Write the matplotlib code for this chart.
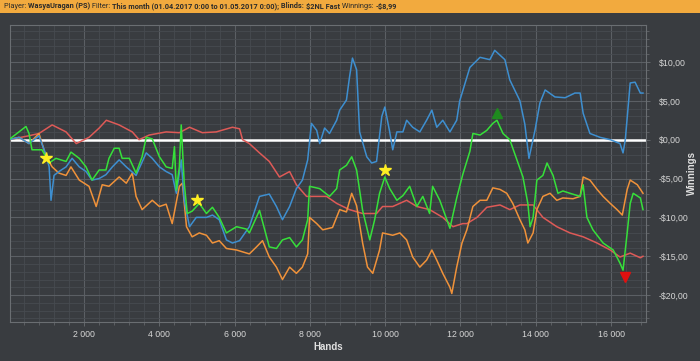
import matplotlib.pyplot as plt
from matplotlib.ticker import MultipleLocator, FuncFormatter
from matplotlib.patches import Rectangle

plt.rcParams['font.family'] = ['Liberation Sans', 'DejaVu Sans']

# cumulative winnings per series (hands, dollars)
hands_red = [0, 530, 800, 1150, 1520, 1790, 2130, 2400, 2590, 2930, 3280, 3460, 3730, 4180, 4530,
             4800, 5140, 5510, 5940, 6130, 6210, 6390, 6660, 6920, 7190, 7460, 7640, 7910, 8180,
             8440, 8710, 9050, 9400, 9770, 9930, 10200, 10570, 10840, 11180, 11530, 11800, 12060,
             12170, 12440, 12700, 13050, 13310, 13580, 13930, 14190, 14560, 14910, 15260, 15630,
             15980, 16240, 16510, 16780, 16850]
win_red = [0, 0.5, 0.8, 1.9, 1.0, -0.5, 0.3, 1.5, 2.5, 1.9, 1.0, 0.0, 0.6, 1.0, 0.9,
           1.6, 0.9, 1.0, 1.6, 1.4, 0.0, -0.5, -1.7, -2.8, -4.8, -4.1, -5.8, -7.3, -7.3,
           -7.3, -8.2, -9.0, -9.5, -9.5, -8.6, -8.6, -7.8, -8.6, -9.0, -10.0, -11.2, -10.8,
           -10.8, -10.0, -8.7, -8.4, -9.0, -8.4, -8.4, -10.0, -11.2, -12.0, -12.5, -13.3,
           -14.2, -15.1, -14.6, -15.2, -15.0]

hands_orange = [0, 270, 535, 800, 990, 1150, 1330, 1520, 1650, 1870, 2130, 2320, 2480, 2660, 2930,
                3120, 3280, 3380, 3540, 3810, 4000, 4180, 4340, 4530, 4610, 4720, 4870, 5060, 5250,
                5410, 5590, 5780, 6050, 6390, 6580, 6740, 6920, 7110, 7270, 7460, 7640, 7800, 7940,
                7990, 8180, 8340, 8600, 8790, 8970, 9110, 9240, 9400, 9530, 9670, 9850, 9930, 10200,
                10390, 10570, 10730, 10920, 11100, 11240, 11370, 11530, 11720, 11770, 11900, 12040,
                12170, 12330, 12520, 12700, 12860, 13050, 13230, 13390, 13580, 13710, 13790, 13930,
                14030, 14190, 14380, 14560, 14720, 14990, 15180, 15260, 15440, 15630, 15790, 15980,
                16160, 16300, 16430, 16510, 16700, 16850]
win_orange = [0, 0.3, -0.5, 0.8, -2.2, -3.5, -4.3, -4.6, -3.5, -5.2, -6.0, -8.6, -5.8, -6.0, -4.8,
              -5.6, -4.3, -7.3, -9.0, -7.8, -8.6, -8.3, -10.8, -6.0, -5.6, -11.2, -12.5, -12.0, -12.3,
              -13.3, -13.0, -14.0, -14.2, -14.7, -13.8, -13.0, -15.1, -16.4, -18.0, -16.4, -17.2, -16.4, -14.7,
              -10.0, -10.8, -11.6, -11.3, -9.0, -9.3, -6.9, -8.5, -13.3, -16.4, -17.2, -14.2, -12.0, -12.3,
              -12.0, -12.9, -15.1, -16.4, -15.5, -14.2, -15.5, -17.2, -19.0, -19.8, -16.4, -13.3,
              -11.6, -8.6, -7.8, -7.8, -6.2, -6.4, -6.9, -8.2, -10.3, -11.6, -13.3, -12.0,
              -9.0, -7.3, -6.9, -7.8, -7.5, -7.6, -7.3, -4.8, -5.2, -6.4, -7.3, -8.2,
              -9.0, -9.7, -6.4, -5.2, -5.8, -6.9]

hands_blue = [0, 270, 535, 800, 990, 1070, 1120, 1200, 1330, 1520, 1680, 1870, 2050, 2210, 2400,
              2580, 2750, 2930, 3120, 3380, 3650, 3810, 4000, 4180, 4340, 4450, 4580, 4660, 4800,
              4980, 5250, 5410, 5590, 5780, 5940, 6130, 6390, 6660, 6920, 7110, 7270, 7460, 7640,
              7800, 7940, 8040, 8180, 8260, 8390, 8520, 8710, 8790, 8970, 9050, 9130, 9240, 9320,
              9510, 9640, 9770, 9910, 9990, 10120, 10200, 10310, 10470, 10570, 10730, 10920, 11100,
              11240, 11370, 11530, 11720, 11900, 11980, 12250, 12520, 12780, 12910, 13180, 13310,
              13580, 13710, 13820, 13980, 14110, 14250, 14510, 14780, 15040, 15180, 15260, 15440,
              15710, 15980, 16240, 16320, 16380, 16510, 16640, 16780, 16850]
win_blue = [0, 0.3, -0.5, 0.5, -2.0, -3.5, -7.8, -4.6, -4.1, -3.5, -2.4, -3.5, -4.1, -5.2, -5.0,
            -4.5, -3.5, -2.6, -3.5, -4.6, -1.7, -2.4, -3.5, -4.1, -4.5, -6.9, -2.6, -7.8, -11.2,
            -10.0, -10.0, -9.7, -10.3, -12.9, -13.3, -13.0, -11.2, -7.3, -7.0, -8.6, -10.3, -8.6, -6.3,
            -5.2, -2.6, 2.1, 1.2, -0.5, 1.5, 0.8, 2.5, 3.8, 5.1, 8.0, 10.5, 9.0, 1.0,
            -2.2, -3.0, -2.8, 3.0, 4.2, 1.0, -1.3, 1.0, 1.0, 2.5, 1.6, 1.0, 2.5,
            3.8, 1.6, 2.5, 1.0, 2.5, 5.0, 9.3, 10.6, 10.3, 11.5, 10.3, 7.7,
            5.0, 2.0, -2.4, 1.2, 4.7, 6.4, 5.5, 5.4, 6.0, 6.0, 3.4, 0.8,
            0.3, 0.0, -0.5, -1.7, 0.0, 7.3, 7.4, 6.0, 6.0]

hands_green = [0, 455, 535, 615, 880, 1070, 1250, 1520, 1650, 1870, 2050, 2210, 2400, 2580, 2660,
               2800, 2930, 3010, 3200, 3380, 3540, 3650, 3810, 4000, 4180, 4340, 4400, 4450, 4530,
               4580, 4660, 4740, 4870, 5060, 5250, 5410, 5590, 5780, 6050, 6310, 6390, 6660, 6920,
               7110, 7270, 7460, 7640, 7800, 7940, 7990, 8260, 8520, 8710, 8790, 8970, 9110, 9240,
               9400, 9590, 9720, 9850, 9990, 10120, 10310, 10470, 10650, 10840, 11000, 11180, 11260,
               11450, 11720, 11900, 12060, 12250, 12330, 12520, 12700, 12860, 12970, 13130, 13310,
               13500, 13660, 13790, 13850, 13930, 14030, 14190, 14300, 14460, 14590, 14720, 14910,
               15180, 15260, 15360, 15520, 15790, 16060, 16240, 16320, 16430, 16510, 16590, 16780,
               16850]
win_green = [0, 1.7, 0.8, -1.3, -1.3, -3.0, -2.4, -2.8, -1.6, -2.4, -3.5, -5.2, -3.9, -3.9, -2.4,
             -1.1, -1.1, -2.4, -2.4, -4.3, -2.2, 0.3, 0.1, -2.2, -3.5, -3.7, -0.9, -6.5, -3.5,
             1.9, -5.6, -9.5, -9.2, -8.2, -9.5, -8.7, -10.0, -12.0, -11.2, -11.5, -12.0, -9.1, -13.8,
             -14.0, -12.9, -12.6, -13.8, -12.9, -10.3, -6.0, -6.3, -7.3, -6.3, -3.9, -3.3, -2.2, -3.9,
             -9.1, -12.9, -10.3, -6.9, -4.8, -6.3, -7.8, -7.2, -6.0, -8.6, -7.3, -9.5, -6.0,
             -7.8, -11.4, -7.5, -4.5, -1.5, 0.8, 0.6, 1.2, 2.1, 2.5, 0.8, 0.0,
             -2.6, -4.8, -8.2, -11.2, -10.0, -5.2, -4.6, -3.0, -4.6, -6.9, -6.6, -6.9,
             -7.3, -5.8, -10.0, -11.6, -13.3, -14.2, -15.9, -16.8, -12.0, -8.2, -6.9, -7.5,
             -9.0]

star_hands = [990, 5010, 9990]
star_win = [-2.4, -7.8, -3.9]
best_hand, best_win = 12965, 3.4
worst_hand, worst_win = 16375, -17.7

bg = '#393c40'
fig = plt.figure(figsize=(7, 3.61), dpi=100, facecolor=bg)

# header bar
fig.patches.append(Rectangle((0, 1 - 13 / 361), 1, 13 / 361, transform=fig.transFigure,
                             facecolor='#f2aa3e', edgecolor='none', zorder=0))
pieces = [('Player: ', 'normal'), ('WasyaUragan (PS)', 'bold'), (' Filter: ', 'normal'),
          ('This month (01.04.2017 0:00 to 01.05.2017 0:00);', 'bold'), (' Blinds: ', 'bold'),
          ('\\$2NL Fast', 'bold'), (' Winnings: ', 'normal'), ('-\\$8,99', 'bold')]
renderer = fig.canvas.get_renderer()
xpos = 4
for txt, w in pieces:
    t = fig.text(xpos / 700, 1 - 6.5 / 361, txt, fontsize=5.3, fontweight=w, color='#2b2b2b',
                 va='center', ha='left', family='Roboto')
    xpos += t.get_window_extent(renderer=renderer).width

ax = fig.add_axes([10 / 700, 1 - 321.5 / 361, 636 / 700, 296.5 / 361])
ax.set_facecolor(bg)
ax.set_xlim(30, 16930)
ax.set_ylim(-23.4, 14.76)

ax.xaxis.set_major_locator(MultipleLocator(2000))
ax.xaxis.set_minor_locator(MultipleLocator(400))
ax.yaxis.set_major_locator(MultipleLocator(5))
ax.yaxis.set_minor_locator(MultipleLocator(1))
ax.grid(which='major', color='#5b5f64', linewidth=0.8)
ax.grid(which='minor', color='#474b50', linewidth=0.6)
ax.set_axisbelow(True)

def money(v, pos):
    s = f'{abs(v):.2f}'.replace('.', ',')
    return ('-' if v < -1e-9 else '') + '\\$' + s

ax.yaxis.set_major_formatter(FuncFormatter(money))
ax.xaxis.set_major_formatter(FuncFormatter(lambda v, p: f'{int(v):,}'.replace(',', ' ')))
ax.yaxis.tick_right()
ax.yaxis.set_label_position('right')
ax.tick_params(which='both', colors='#6a6e72', labelcolor='#d6d6d6', labelsize=6.3)
ax.tick_params(which='major', length=3, width=0.6)
ax.tick_params(which='minor', length=2, width=0.5)
ax.tick_params(axis='y', pad=6)
ax.tick_params(axis='x', pad=3)
for s in ax.spines.values():
    s.set_color('#6a6e72')
    s.set_linewidth(0.8)

ax.axhline(0, color='white', linewidth=1.8, zorder=2)

ax.plot(hands_red, win_red, color='#de5a57', linewidth=1.1, zorder=3)
ax.plot(hands_orange, win_orange, color='#f0923a', linewidth=1.1, zorder=3)
ax.plot(hands_blue, win_blue, color='#3e8fd0', linewidth=1.1, zorder=3)
ax.plot(hands_green, win_green, color='#36e03a', linewidth=1.1, zorder=4)

ax.plot(star_hands, star_win, linestyle='none', marker='*', markersize=9, color='#ffee22', zorder=5)
ax.plot([best_hand], [best_win], linestyle='none', marker='^', markersize=7, color='#1f8a1f', zorder=5)
ax.plot([worst_hand], [worst_win], linestyle='none', marker='v', markersize=7, color='#e01010', zorder=5)

ax.set_xlabel('Hands', color='#e0e0e0', fontsize=7, fontweight='bold')
ax.set_ylabel('Winnings', color='#e0e0e0', fontsize=7, fontweight='bold')
ax.xaxis.set_label_coords(0.5, -0.086)
ax.yaxis.set_label_coords(1.072, 0.5)
ax.xaxis.label.set_va('center')
ax.yaxis.label.set_va('center')

fig.savefig('out.png', dpi=100, facecolor=bg)
